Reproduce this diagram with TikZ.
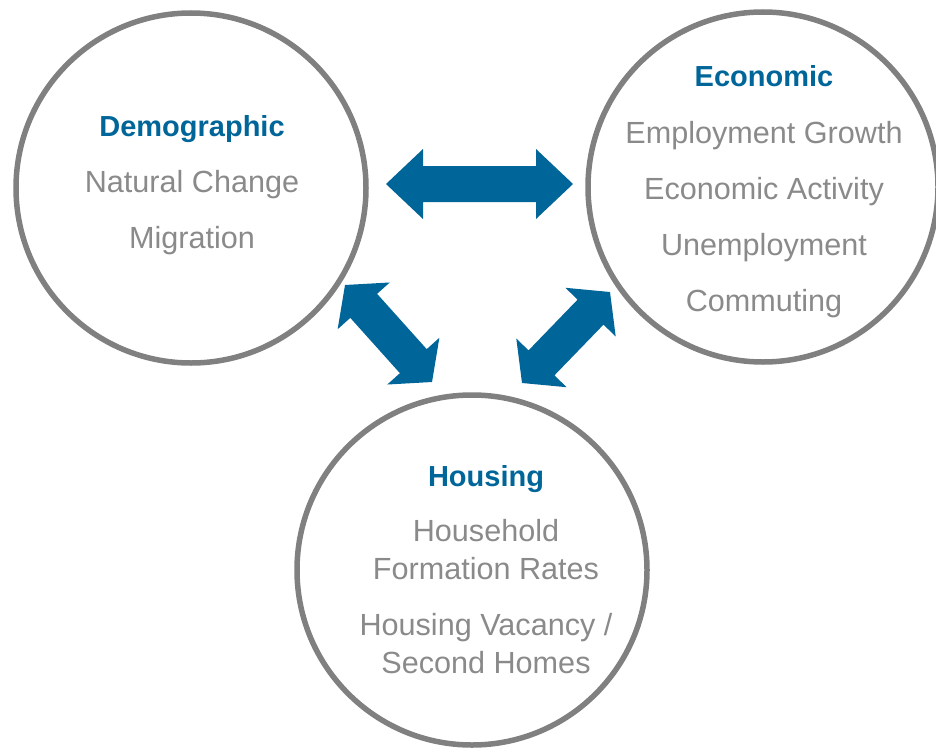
\documentclass[tikz,border=0pt]{standalone}
\usepackage{fontspec}
\setmainfont{Liberation Sans}
\usetikzlibrary{calc}
\definecolor{hblue}{RGB}{0,101,153}
\definecolor{ringgrey}{RGB}{128,128,128}
\definecolor{txtgrey}{RGB}{138,138,138}
\newcommand\dblarrow[3]{%
  \path ($(#1)!#3!(#2)$) coordinate (p1) ($(#2)!#3!(#1)$) coordinate (p2);
  \fill[hblue] (#1) -- ($(p1)!35pt!90:(#2)$) -- ($(p1)!18pt!90:(#2)$)
    -- ($(p2)!18pt!-90:(#1)$) -- ($(p2)!35pt!-90:(#1)$) -- (#2)
    -- ($(p2)!35pt!90:(#1)$) -- ($(p2)!18pt!90:(#1)$)
    -- ($(p1)!18pt!-90:(#2)$) -- ($(p1)!35pt!-90:(#2)$) -- cycle;}
\tikzset{
  ring/.style={circle, draw=ringgrey, line width=5.5pt, minimum size=350pt, inner sep=0pt},
  head/.style={font=\bfseries\fontsize{29}{34}\selectfont, text=hblue, anchor=base, inner sep=0pt},
  item/.style={font=\fontsize{30.6}{38}\selectfont, text=txtgrey, anchor=base, inner sep=0pt}
}
\begin{document}
\begin{tikzpicture}[x=1pt,y=-1pt]
\path[use as bounding box, clip] (0,0) rectangle (936,749);
\node[ring] (demo) at (191,188) {};
\node[ring] (econ) at (763,187) {};
\node[ring] (house) at (472,570) {};
% Demographic
\node[head] (dh) at (192,136) {Demographic};
\node[item] (d1) at (192,192) {Natural Change};
\node[item] (d2) at (192,248) {Migration};
% Economic
\node[head] (eh) at (764,87) {Economic};
\node[item] (e1) at (764,143) {Employment Growth};
\node[item] (e2) at (764,199) {Economic Activity};
\node[item] (e3) at (764,255) {Unemployment};
\node[item] (e4) at (764,311) {Commuting};
% Housing
\node[head] (hh) at (486,486) {Housing};
\node[item] (h1) at (486,541) {Household};
\node[item] (h2) at (486,579) {Formation Rates};
\node[item] (h3) at (486,635) {Housing Vacancy /};
\node[item] (h4) at (486,673) {Second Homes};
% arrows
\coordinate (a1) at (386,184);
\coordinate (a2) at (573,184);
\coordinate (b1) at (345,285);
\coordinate (b2) at (432,382);
\coordinate (c1) at (610,292);
\coordinate (c2) at (522,383);
\dblarrow{a1}{a2}{37pt}
\dblarrow{b1}{b2}{28pt}
\dblarrow{c1}{c2}{28pt}
\end{tikzpicture}
\end{document}
